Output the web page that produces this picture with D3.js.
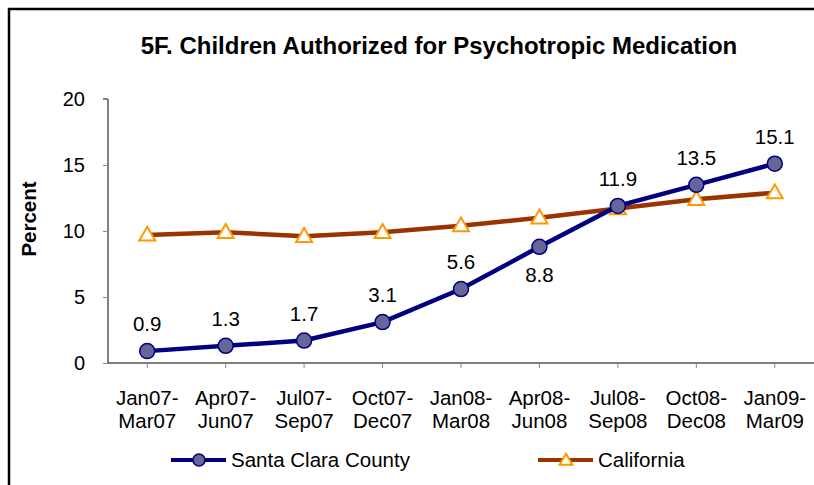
<html>
<head>
<meta charset="utf-8">
<title>5F. Children Authorized for Psychotropic Medication</title>
<style>
  body { margin: 0; background: #fff; }
  text { font-family: Arial, "Liberation Sans", sans-serif; }
</style>
</head>
<body>
<script src="https://d3js.org/d3.v7.min.js"></script>
<script>
var width = 814, height = 485;

// data
var periods = [["Jan07-","Mar07"],["Apr07-","Jun07"],["Jul07-","Sep07"],["Oct07-","Dec07"],
               ["Jan08-","Mar08"],["Apr08-","Jun08"],["Jul08-","Sep08"],["Oct08-","Dec08"],["Jan09-","Mar09"]];
var santaClara = [0.9, 1.3, 1.7, 3.1, 5.6, 8.8, 11.9, 13.5, 15.1];
var california = [9.7, 9.9, 9.6, 9.9, 10.4, 11.0, 11.7, 12.4, 12.9];
var yTicks = [0, 5, 10, 15, 20];

var svg = d3.select("body").append("svg")
    .attr("width", width).attr("height", height);

// chart frame (runs past right / bottom edges)
svg.append("rect")
    .attr("x", 9).attr("y", 9)
    .attr("width", width + 20).attr("height", height + 20)
    .attr("fill", "none").attr("stroke", "#000").attr("stroke-width", 2.5);

svg.append("text")
    .attr("x", 439).attr("y", 54)
    .attr("text-anchor", "middle")
    .attr("font-size", "24px").attr("font-weight", "bold")
    .text("5F. Children Authorized for Psychotropic Medication");

var x = d3.scaleBand().domain(d3.range(periods.length)).range([108, 814]);
var y = d3.scaleLinear().domain([0, 20]).range([363, 99]);
var cx = function(i) { return x(i) + x.bandwidth() / 2; };

// y axis
var yAxis = svg.append("g").attr("transform", "translate(108,0)")
    .call(d3.axisLeft(y).tickValues(yTicks).tickSize(5).tickPadding(18));
yAxis.select(".domain").attr("stroke", "#000").attr("d", "M-5,99H0V363");
yAxis.selectAll(".tick line").attr("stroke", "#888");
yAxis.selectAll(".tick text").attr("font-size", "20px").attr("fill", "#000")
    .attr("font-family", "Arial, 'Liberation Sans', sans-serif");

// x axis
var xAxis = svg.append("g").attr("transform", "translate(0,363)")
    .call(d3.axisBottom(x).tickSize(5).tickFormat(""));
xAxis.select(".domain").attr("stroke", "#000").attr("d", "M108,0H814");
xAxis.selectAll(".tick line").attr("stroke", "#888");

svg.append("g").selectAll("text")
    .data(periods).enter().append("text")
    .attr("text-anchor", "middle")
    .attr("font-size", "20.5px")
    .each(function(d, i) {
      var t = d3.select(this);
      t.append("tspan").attr("x", cx(i)).attr("y", 405).text(d[0]);
      t.append("tspan").attr("x", cx(i)).attr("y", 428).text(d[1]);
    });

svg.append("text")
    .attr("transform", "translate(36,219) rotate(-90)")
    .attr("text-anchor", "middle")
    .attr("font-size", "20.5px").attr("font-weight", "bold")
    .text("Percent");

var line = d3.line().x(function(d, i) { return cx(i); }).y(function(d) { return y(d); });
var tri = d3.symbol().type(d3.symbolTriangle).size(110);

// California
svg.append("path").datum(california)
    .attr("d", line).attr("fill", "none")
    .attr("stroke", "#993300").attr("stroke-width", 4.5);
svg.append("g").selectAll("path")
    .data(california).enter().append("path")
    .attr("d", tri)
    .attr("transform", function(d, i) { return "translate(" + cx(i) + "," + (y(d) + 1) + ")"; })
    .attr("fill", "#fff").attr("stroke", "#FF9900").attr("stroke-width", 2);

// Santa Clara
svg.append("path").datum(santaClara)
    .attr("d", line).attr("fill", "none")
    .attr("stroke", "#000080").attr("stroke-width", 4.5);
svg.append("g").selectAll("circle")
    .data(santaClara).enter().append("circle")
    .attr("cx", function(d, i) { return cx(i); })
    .attr("cy", function(d) { return y(d); })
    .attr("r", 7.5)
    .attr("fill", "#666699").attr("stroke", "#000080").attr("stroke-width", 1.5);

svg.append("g").selectAll("text")
    .data(santaClara).enter().append("text")
    .attr("x", function(d, i) { return cx(i); })
    .attr("y", function(d, i) { return i === 5 ? y(d) + 35 : y(d) - 20; })
    .attr("text-anchor", "middle")
    .attr("font-size", "20.5px")
    .text(function(d) { return d.toFixed(1); });

// legend
var lg = svg.append("g");
lg.append("line").attr("x1", 171).attr("x2", 226).attr("y1", 460).attr("y2", 460)
    .attr("stroke", "#000080").attr("stroke-width", 4);
lg.append("circle").attr("cx", 199).attr("cy", 460).attr("r", 6)
    .attr("fill", "#666699").attr("stroke", "#000080").attr("stroke-width", 1.5);
lg.append("text").attr("x", 231).attr("y", 467).attr("font-size", "20.5px").text("Santa Clara County");

lg.append("line").attr("x1", 538).attr("x2", 593).attr("y1", 460).attr("y2", 460)
    .attr("stroke", "#993300").attr("stroke-width", 4);
lg.append("path").attr("d", d3.symbol().type(d3.symbolTriangle).size(70))
    .attr("transform", "translate(566,461)")
    .attr("fill", "#fff").attr("stroke", "#FF9900").attr("stroke-width", 2);
lg.append("text").attr("x", 598).attr("y", 467).attr("font-size", "20.5px").text("California");
</script>
</body>
</html>
